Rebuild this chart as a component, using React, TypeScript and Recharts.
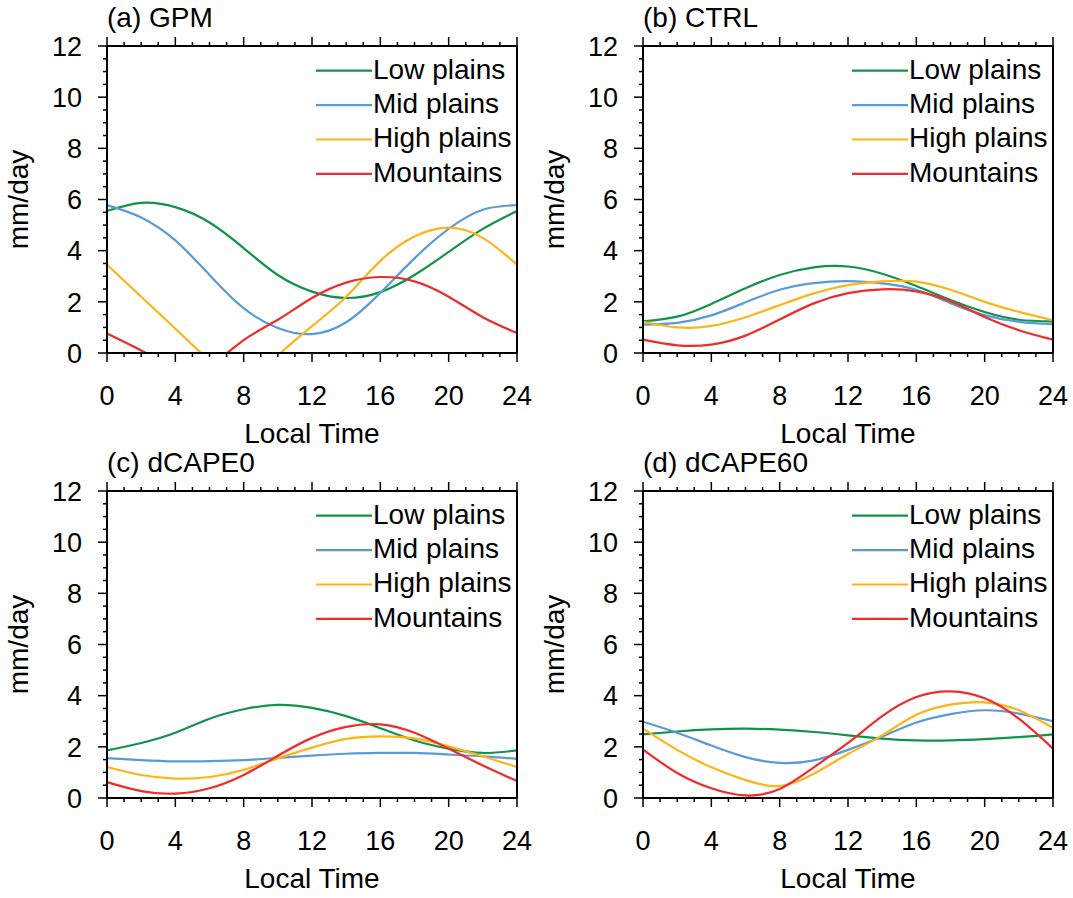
import React from "react";
import { LineChart, Line, XAxis, YAxis, Legend } from "recharts";

// local time (hours) of each sample
const hours = [0, 2, 4, 6, 8, 10, 12, 14, 16, 18, 20, 22, 24];
const seriesNames = ["Low plains", "Mid plains", "High plains", "Mountains"];
const seriesColors = ["#13924a", "#5b9bd5", "#fdb515", "#ee2c2c"];
const xTicks = [0, 1, 2, 3, 4, 5, 6, 7, 8, 9, 10, 11, 12, 13, 14, 15, 16, 17, 18, 19, 20, 21, 22, 23, 24];
const yTicks = [0, 0.5, 1, 1.5, 2, 2.5, 3, 3.5, 4, 4.5, 5, 5.5, 6, 6.5, 7, 7.5, 8, 8.5, 9, 9.5, 10, 10.5, 11, 11.5, 12];

// (a) GPM
const gpmLow = [5.55, 5.87, 5.7, 5.1, 4.1, 3.05, 2.4, 2.15, 2.38, 3.05, 3.95, 4.85, 5.55];
const gpmMid = [5.78, 5.3, 4.4, 3.05, 1.75, 0.98, 0.74, 1.2, 2.35, 3.7, 4.85, 5.6, 5.78];
const gpmHigh = [3.45, 2.2, 0.95, -0.3, -1.0, -0.1, 1.05, 2.2, 3.6, 4.55, 4.9, 4.5, 3.45];
const gpmMtn = [0.76, 0.1, -0.5, -0.45, 0.5, 1.3, 2.15, 2.75, 2.97, 2.8, 2.2, 1.4, 0.78];

// (b) CTRL
const ctrlLow = [1.24, 1.42, 1.92, 2.53, 3.05, 3.35, 3.38, 3.1, 2.62, 2.07, 1.6, 1.3, 1.24];
const ctrlMid = [1.11, 1.18, 1.47, 1.98, 2.47, 2.73, 2.81, 2.72, 2.47, 1.95, 1.48, 1.22, 1.13];
const ctrlHigh = [1.22, 1.0, 1.06, 1.4, 1.87, 2.33, 2.65, 2.8, 2.79, 2.47, 2.0, 1.61, 1.28];
const ctrlMtn = [0.52, 0.3, 0.33, 0.68, 1.31, 1.94, 2.34, 2.49, 2.41, 2.02, 1.41, 0.89, 0.52];

// (c) dCAPE0
const cape0Low = [1.86, 2.15, 2.55, 3.1, 3.47, 3.64, 3.52, 3.2, 2.73, 2.25, 1.93, 1.76, 1.86];
const cape0Mid = [1.56, 1.48, 1.43, 1.44, 1.48, 1.57, 1.66, 1.73, 1.76, 1.76, 1.7, 1.63, 1.53];
const cape0High = [1.21, 0.9, 0.76, 0.82, 1.1, 1.55, 1.97, 2.31, 2.41, 2.33, 2.02, 1.63, 1.21];
const cape0Mtn = [0.62, 0.27, 0.17, 0.38, 0.9, 1.65, 2.35, 2.78, 2.88, 2.55, 1.93, 1.27, 0.66];

// (d) dCAPE60
const cape60Low = [2.49, 2.6, 2.68, 2.71, 2.67, 2.58, 2.45, 2.32, 2.25, 2.25, 2.3, 2.38, 2.49];
const cape60Mid = [2.98, 2.55, 2.05, 1.6, 1.37, 1.47, 1.88, 2.4, 2.95, 3.28, 3.43, 3.3, 3.0];
const cape60High = [2.71, 1.88, 1.2, 0.7, 0.47, 0.95, 1.72, 2.45, 3.25, 3.65, 3.74, 3.43, 2.74];
const cape60Mtn = [1.89, 0.98, 0.38, 0.1, 0.35, 1.2, 2.15, 3.2, 3.95, 4.17, 3.9, 3.1, 1.93];

const FONT = '"Liberation Sans", Arial, Helvetica, sans-serif';
const FS = 28; // titles, legend, axis titles
const TFS = 27; // tick labels
const PLOT_W = 410;
const PLOT_H = 307;
// outer box around the plot; the 1px axes sit inside it
const M = { top: 46, right: 20, bottom: 95, left: 100 };

const buildRows = (series: number[][]) =>
    hours.map((h, i) => ({ hour: h, s0: series[0][i], s1: series[1][i], s2: series[2][i], s3: series[3][i] }));

const BottomTick = (props: any) => {
    const { x, y, payload } = props;
    const v = payload.value;
    const major = v % 4 === 0;
    return (
        <g>
            <line x1={x} x2={x} y1={y} y2={y + (major ? 9 : 4)} stroke="#000" strokeWidth={1.5} />
            {major && (
                <text x={x} y={y + 51.5} textAnchor="middle" fontSize={TFS} fontFamily={FONT} fill="#000">
                    {v}
                </text>
            )}
        </g>
    );
};

const TopTick = (props: any) => {
    const { x, y, payload } = props;
    const major = payload.value % 4 === 0;
    return <line x1={x} x2={x} y1={y} y2={y - (major ? 9 : 4)} stroke="#000" strokeWidth={1.5} />;
};

const LeftTick = (props: any) => {
    const { x, y, payload } = props;
    const v = payload.value;
    const major = v % 2 === 0;
    return (
        <g>
            <line x1={x - (major ? 9 : 4)} x2={x} y1={y} y2={y} stroke="#000" strokeWidth={1.5} />
            {major && (
                <text x={x - 25} y={y + 9.7} textAnchor="end" fontSize={TFS} fontFamily={FONT} fill="#000">
                    {v}
                </text>
            )}
        </g>
    );
};

const RightTick = (props: any) => {
    const { x, y, payload } = props;
    const major = payload.value % 2 === 0;
    return <line x1={x} x2={x + (major ? 9 : 4)} y1={y} y2={y} stroke="#000" strokeWidth={1.5} />;
};

const renderLegend = () => (
    <svg width={205} height={140}>
        {seriesNames.map((name, i) => (
            <g key={name}>
                <line x1={0} x2={56} y1={19.7 + 34.4 * i} y2={19.7 + 34.4 * i} stroke={seriesColors[i]} strokeWidth={2.2} />
                <text x={57} y={27.5 + 34.4 * i} fontSize={FS} fontFamily={FONT} fill="#000">
                    {name}
                </text>
            </g>
        ))}
    </svg>
);

interface PanelProps {
    plotLeft: number;
    plotTop: number;
    series: number[][];
}

const Panel: React.FC<PanelProps> = ({ plotLeft, plotTop, series }) => {
    const rows = buildRows(series);
    const w = M.left + PLOT_W + M.right;
    const h = M.top + PLOT_H + M.bottom;
    const axisLine = { stroke: "#000", strokeWidth: 2 };
    const margin = { top: M.top - 1, right: M.right - 1, bottom: M.bottom - 1, left: M.left - 1 };
    return (
        <div style={{ position: "absolute", left: plotLeft - M.left, top: plotTop - M.top, width: w, height: h }}>
            <LineChart width={w} height={h} data={rows} margin={margin}>
                <XAxis xAxisId="bottom" dataKey="hour" type="number" domain={[0, 24]} ticks={xTicks} interval={0}
                    height={1} tickSize={0} tickMargin={0} tickLine={false} axisLine={axisLine} tick={BottomTick} />
                <XAxis xAxisId="top" orientation="top" dataKey="hour" type="number" domain={[0, 24]} ticks={xTicks}
                    interval={0} height={1} tickSize={0} tickMargin={0} tickLine={false} axisLine={axisLine} tick={TopTick} />
                <YAxis yAxisId="left" type="number" domain={[0, 12]} ticks={yTicks} interval={0} allowDataOverflow
                    width={1} tickSize={0} tickMargin={0} tickLine={false} axisLine={axisLine} tick={LeftTick} />
                <YAxis yAxisId="right" orientation="right" type="number" domain={[0, 12]} ticks={yTicks} interval={0}
                    width={1} tickSize={0} tickMargin={0} tickLine={false} axisLine={axisLine} tick={RightTick} />
                {seriesNames.map((name, i) => (
                    <Line key={name} xAxisId="bottom" yAxisId="left" dataKey={`s${i}`} name={name} type="natural"
                        stroke={seriesColors[i]} strokeWidth={2.2} dot={false} activeDot={false} isAnimationActive={false} />
                ))}
                <Legend layout="vertical" align="center" verticalAlign="middle" content={renderLegend}
                    wrapperStyle={{ left: M.left + 209, top: M.top + 5, width: 205, height: 140 }} />
            </LineChart>
        </div>
    );
};

const panels = [
    { title: "(a) GPM", plotLeft: 107, plotTop: 46, series: [gpmLow, gpmMid, gpmHigh, gpmMtn] },
    { title: "(b) CTRL", plotLeft: 643, plotTop: 46, series: [ctrlLow, ctrlMid, ctrlHigh, ctrlMtn] },
    { title: "(c) dCAPE0", plotLeft: 107, plotTop: 491, series: [cape0Low, cape0Mid, cape0High, cape0Mtn] },
    { title: "(d) dCAPE60", plotLeft: 643, plotTop: 491, series: [cape60Low, cape60Mid, cape60High, cape60Mtn] },
];

const App: React.FC = () => {
    return (
        <div style={{ position: "absolute", left: 0, top: 0, width: 1073, height: 898, background: "#fff", overflow: "hidden" }}>
            {panels.map((p) => (
                <Panel key={p.title} plotLeft={p.plotLeft} plotTop={p.plotTop} series={p.series} />
            ))}
            <svg width={1073} height={898} style={{ position: "absolute", left: 0, top: 0, pointerEvents: "none" }}>
                {panels.map((p) => (
                    <g key={p.title} fontSize={FS} fontFamily={FONT} fill="#000">
                        <text x={p.plotLeft} y={p.plotTop - 19.5}>{p.title}</text>
                        <text x={p.plotLeft + PLOT_W / 2} y={p.plotTop + PLOT_H + 90} textAnchor="middle">Local Time</text>
                        <text x={p.plotLeft - 79} y={p.plotTop + PLOT_H / 2} textAnchor="middle"
                            transform={`rotate(-90, ${p.plotLeft - 79}, ${p.plotTop + PLOT_H / 2})`}>
                            mm/day
                        </text>
                    </g>
                ))}
            </svg>
        </div>
    );
};

export default App;
